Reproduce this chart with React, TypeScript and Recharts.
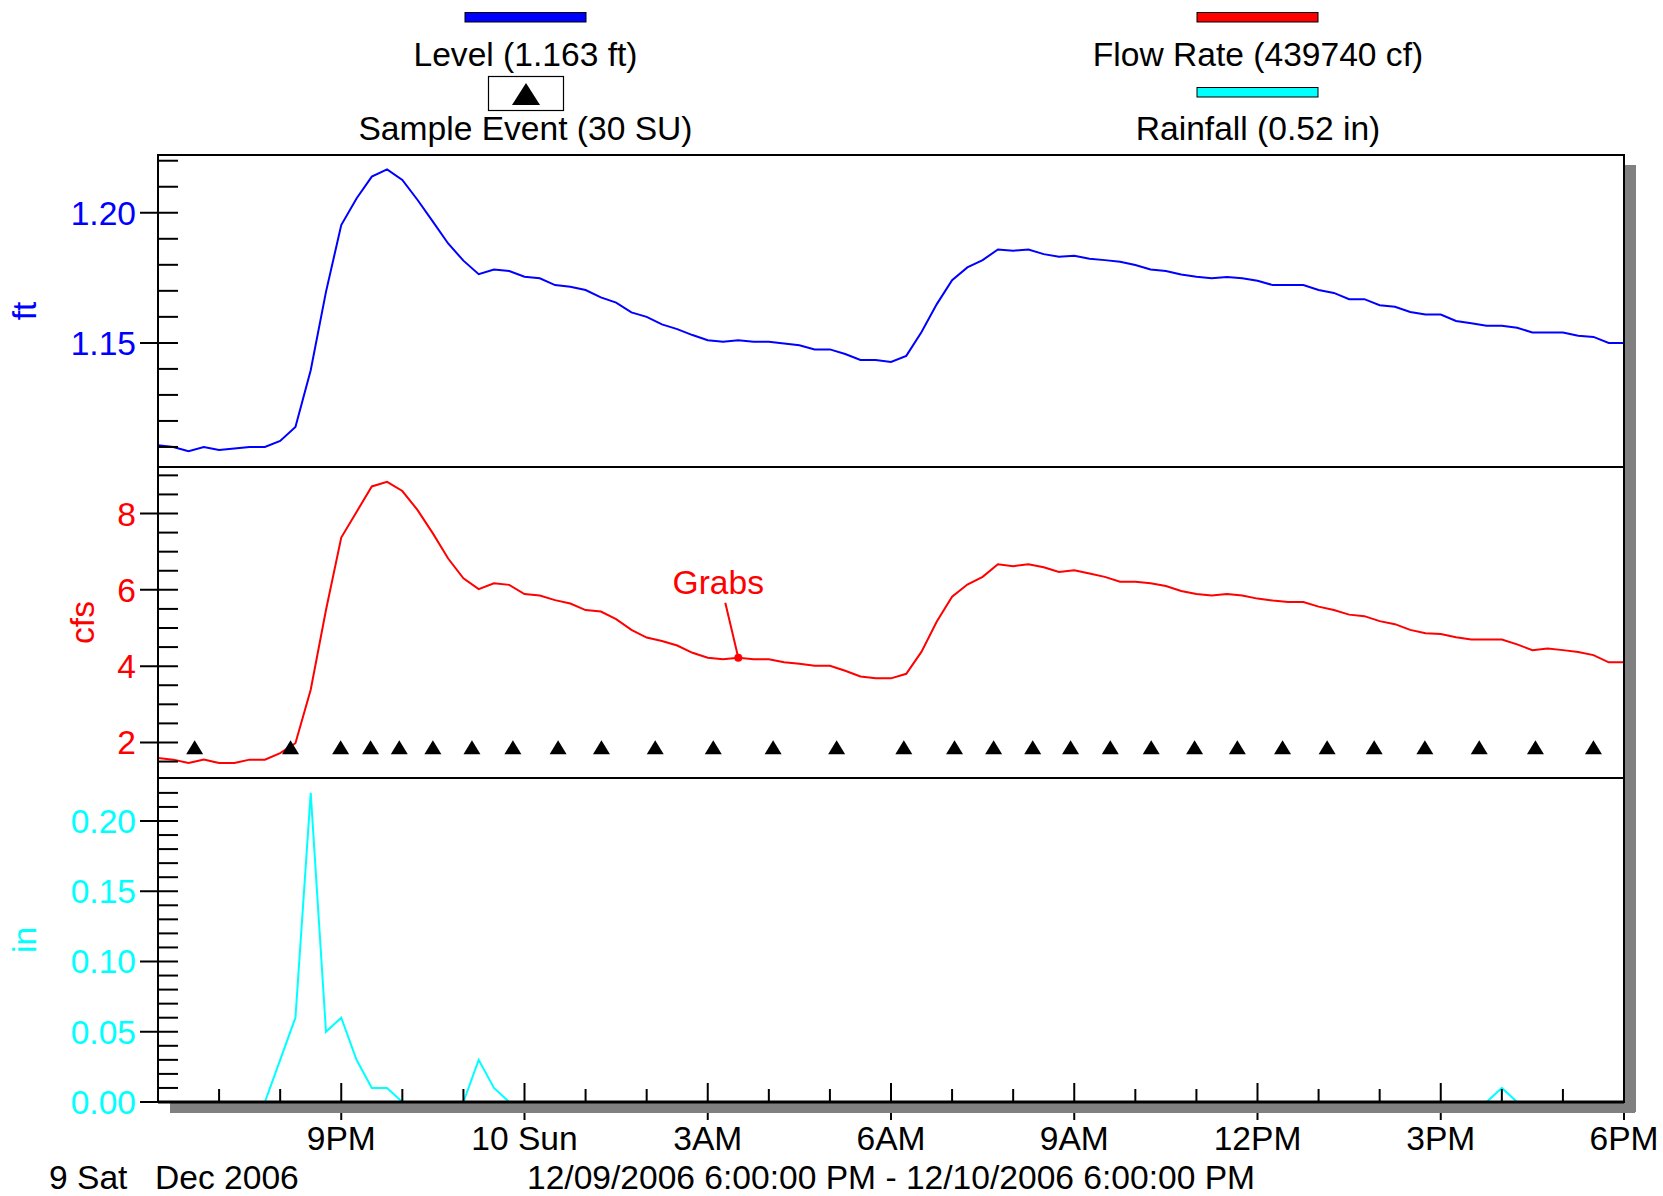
import React from 'react';
import { ComposedChart, Line, XAxis, YAxis, Scatter, ReferenceDot } from 'recharts';

// ---------- data (15-minute readings, 6:00 PM Sat 9 Dec 2006 -> 6:00 PM Sun 10 Dec) ----------
const levelFt = [
  1.1107, 1.1100, 1.1084, 1.1100, 1.1088, 1.1094, 1.1100, 1.1100, 1.1123, 1.1177,
  1.1395, 1.1696, 1.1953, 1.2055, 1.2139, 1.2167, 1.2126, 1.2049, 1.1966, 1.1882,
  1.1816, 1.1764, 1.1782, 1.1776, 1.1754, 1.1748, 1.1722, 1.1716, 1.1703, 1.1675,
  1.1655, 1.1617, 1.1600, 1.1571, 1.1553, 1.1530, 1.1510, 1.1504, 1.1510, 1.1504,
  1.1504, 1.1498, 1.1491, 1.1475, 1.1475, 1.1457, 1.1434, 1.1434, 1.1427, 1.1450,
  1.1542, 1.1649, 1.1741, 1.1790, 1.1818, 1.1859, 1.1854, 1.1859, 1.1841, 1.1831,
  1.1835, 1.1823, 1.1818, 1.1812, 1.1799, 1.1782, 1.1776, 1.1763, 1.1754, 1.1748,
  1.1753, 1.1748, 1.1739, 1.1722, 1.1722, 1.1722, 1.1703, 1.1692, 1.1668, 1.1668,
  1.1645, 1.1639, 1.1619, 1.1609, 1.1609, 1.1584, 1.1575, 1.1566, 1.1566, 1.1558,
  1.1540, 1.1540, 1.1540, 1.1527, 1.1523, 1.1500, 1.1500,
];

const flowCfs = [
  1.59, 1.55, 1.46, 1.55, 1.46, 1.46, 1.55, 1.55, 1.72, 1.98,
  3.38, 5.47, 7.37, 8.04, 8.71, 8.83, 8.59, 8.09, 7.48, 6.82,
  6.30, 6.02, 6.17, 6.13, 5.89, 5.85, 5.73, 5.64, 5.47, 5.43,
  5.23, 4.95, 4.75, 4.66, 4.54, 4.35, 4.22, 4.18, 4.22, 4.18,
  4.18, 4.10, 4.06, 4.01, 4.01, 3.88, 3.73, 3.68, 3.68, 3.80,
  4.38, 5.17, 5.82, 6.14, 6.34, 6.67, 6.62, 6.67, 6.59, 6.47,
  6.51, 6.43, 6.34, 6.21, 6.21, 6.17, 6.10, 5.97, 5.89, 5.85,
  5.89, 5.85, 5.77, 5.72, 5.68, 5.68, 5.56, 5.47, 5.35, 5.31,
  5.18, 5.10, 4.95, 4.86, 4.84, 4.76, 4.70, 4.70, 4.70, 4.57,
  4.42, 4.46, 4.42, 4.37, 4.29, 4.10, 4.10,
];

const rainIn = [
  0, 0, 0, 0, 0, 0, 0, 0, 0.03, 0.06,
  0.22, 0.05, 0.06, 0.03, 0.01, 0.01, 0, 0, 0, 0,
  0, 0.03, 0.01, 0, 0, 0, 0, 0, 0, 0,
  0, 0, 0, 0, 0, 0, 0, 0, 0, 0,
  0, 0, 0, 0, 0, 0, 0, 0, 0, 0,
  0, 0, 0, 0, 0, 0, 0, 0, 0, 0,
  0, 0, 0, 0, 0, 0, 0, 0, 0, 0,
  0, 0, 0, 0, 0, 0, 0, 0, 0, 0,
  0, 0, 0, 0, 0, 0, 0, 0, 0.01, 0,
  0, 0, 0, 0, 0, 0, 0,
];

// hours after 6:00 PM at which samples were taken (30 SU)
const sampleEventHours = [
  0.60, 2.17, 2.99, 3.48, 3.95, 4.50, 5.14, 5.81, 6.55, 7.26,
  8.14, 9.09, 10.07, 11.11, 12.21, 13.04, 13.68, 14.32, 14.94, 15.59,
  16.26, 16.97, 17.67, 18.41, 19.14, 19.91, 20.74, 21.63, 22.55, 23.50,
];
const SAMPLE_MARKER_CFS = 1.86;
const GRAB_INDEX = 38;

const levelTicks = [1.11, 1.12, 1.13, 1.14, 1.15, 1.16, 1.17, 1.18, 1.19, 1.2, 1.21, 1.22];
const levelMajor = [1.15, 1.2];
const flowTicks = [1.5, 2, 2.5, 3, 3.5, 4, 4.5, 5, 5.5, 6, 6.5, 7, 7.5, 8, 8.5, 9];
const flowMajor = [2, 4, 6, 8];
const rainTicks = [0, 0.01, 0.02, 0.03, 0.04, 0.05, 0.06, 0.07, 0.08, 0.09, 0.1, 0.11,
  0.12, 0.13, 0.14, 0.15, 0.16, 0.17, 0.18, 0.19, 0.2, 0.21, 0.22];
const rainMajor = [0, 0.05, 0.1, 0.15, 0.2];

const hourTicks = [0, 1, 2, 3, 4, 5, 6, 7, 8, 9, 10, 11, 12, 13, 14, 15, 16, 17, 18, 19, 20, 21, 22, 23, 24];
const hourLabels: Record<number, string> = {
  3: '9PM', 6: '10 Sun', 9: '3AM', 12: '6AM', 15: '9AM', 18: '12PM', 21: '3PM', 24: '6PM',
};

const STEP_HOURS = 0.25;
const chartData = levelFt.map((v, i) => ({
  h: i * STEP_HOURS,
  level: v,
  flow: flowCfs[i],
  rain: rainIn[i],
}));
const sampleData = sampleEventHours.map((h) => ({ h, m: SAMPLE_MARKER_CFS }));

// ---------- layout ----------
const W = 1663;
const H = 1196;
const PLOT_LEFT = 158;
const PLOT_RIGHT = 1624;
const P1_TOP = 155;
const P1_BOTTOM = 467;
const P2_BOTTOM = 778;
const P3_BOTTOM = 1102;
const FONT = '"Liberation Sans", Arial, Helvetica, sans-serif';
const FS = 33.6;
const BLUE = '#0000ff';
const RED = '#ff0000';
const CYAN = '#00ffff';

const isIn = (arr: number[], v: number) => arr.some((m) => Math.abs(m - v) < 1e-9);

const makeYTick = (majors: number[], color: string, digits: number) => (props: any) => {
  const { y, payload } = props;
  const v = payload.value as number;
  const major = isIn(majors, v);
  return (
    <g>
      <line x1={major ? PLOT_LEFT - 18 : PLOT_LEFT} x2={PLOT_LEFT + 20} y1={y} y2={y} stroke="#000" strokeWidth={2} />
      {major && (
        <text x={PLOT_LEFT - 22} y={y + 12} textAnchor="end" fill={color} fontSize={FS} fontFamily={FONT}>
          {v.toFixed(digits)}
        </text>
      )}
    </g>
  );
};

const XTick = (props: any) => {
  const { x, payload } = props;
  const v = payload.value as number;
  if (v === 0) return <g />;
  const major = v % 3 === 0;
  return (
    <g>
      <line x1={x} x2={x} y1={major ? P3_BOTTOM - 19 : P3_BOTTOM - 13} y2={major ? P3_BOTTOM + 18 : P3_BOTTOM}
        stroke="#000" strokeWidth={2} />
      {major && (
        <text x={x} y={1150} textAnchor="middle" fill="#000" fontSize={FS} fontFamily={FONT}>
          {hourLabels[v]}
        </text>
      )}
    </g>
  );
};

const Triangle = (props: any) => {
  const { cx, cy } = props;
  return <polygon points={`${cx},${cy - 7.5} ${cx - 8.5},${cy + 6.5} ${cx + 8.5},${cy + 6.5}`} fill="#000" />;
};

const GrabShape = (props: any) => {
  const { cx, cy } = props;
  return (
    <g>
      <line x1={cx - 13} y1={cy - 55} x2={cx} y2={cy} stroke={RED} strokeWidth={2} />
      <circle cx={cx} cy={cy} r={4} fill={RED} />
      <text x={cx - 20} y={cy - 64} textAnchor="middle" fill={RED} fontSize={FS} fontFamily={FONT}>Grabs</text>
    </g>
  );
};

const layer: React.CSSProperties = { position: 'absolute', left: 0, top: 0 };
const RIGHT_MARGIN = W - PLOT_RIGHT;

export default function App() {
  return (
    <div style={{ position: 'absolute', left: 0, top: 0, width: W, height: H, background: '#fff', overflow: 'hidden' }}>
      {/* Panel 1: Level */}
      <div style={layer}>
        <ComposedChart width={W} height={H} data={chartData}
          margin={{ top: P1_TOP, right: RIGHT_MARGIN, bottom: H - P1_BOTTOM, left: 0 }}>
          <XAxis dataKey="h" type="number" domain={[0, 24]} hide allowDataOverflow />
          <YAxis width={PLOT_LEFT} type="number" domain={[1.1023, 1.2222]} allowDataOverflow ticks={levelTicks}
            interval={0} axisLine={false} tickLine={false} tickSize={0} tickMargin={0}
            tick={makeYTick(levelMajor, BLUE, 2)} />
          <Line dataKey="level" type="linear" stroke={BLUE} strokeWidth={2} dot={false} isAnimationActive={false} />
        </ComposedChart>
      </div>
      {/* Panel 2: Flow rate + sample events */}
      <div style={layer}>
        <ComposedChart width={W} height={H} data={chartData}
          margin={{ top: P1_BOTTOM, right: RIGHT_MARGIN, bottom: H - P2_BOTTOM, left: 0 }}>
          <XAxis dataKey="h" type="number" domain={[0, 24]} hide allowDataOverflow />
          <YAxis width={PLOT_LEFT} type="number" domain={[1.069, 9.219]} allowDataOverflow ticks={flowTicks}
            interval={0} axisLine={false} tickLine={false} tickSize={0} tickMargin={0}
            tick={makeYTick(flowMajor, RED, 0)} />
          <Line dataKey="flow" type="linear" stroke={RED} strokeWidth={2} dot={false} isAnimationActive={false} />
          <Scatter data={sampleData} dataKey="m" shape={Triangle} isAnimationActive={false} />
          <ReferenceDot x={chartData[GRAB_INDEX].h} y={flowCfs[GRAB_INDEX]} shape={GrabShape} />
        </ComposedChart>
      </div>
      {/* Panel 3: Rainfall + time axis */}
      <div style={layer}>
        <ComposedChart width={W} height={H} data={chartData}
          margin={{ top: P2_BOTTOM, right: RIGHT_MARGIN, bottom: 0, left: 0 }}>
          <XAxis dataKey="h" type="number" domain={[0, 24]} allowDataOverflow ticks={hourTicks} interval={0}
            height={H - P3_BOTTOM} axisLine={false} tickLine={false} tickSize={0} tickMargin={0} tick={XTick} />
          <YAxis width={PLOT_LEFT} type="number" domain={[0, 0.2306]} allowDataOverflow ticks={rainTicks}
            interval={0} axisLine={false} tickLine={false} tickSize={0} tickMargin={0}
            tick={makeYTick(rainMajor, CYAN, 2)} />
          <Line dataKey="rain" type="linear" stroke={CYAN} strokeWidth={2} dot={false} isAnimationActive={false} />
        </ComposedChart>
      </div>
      {/* Frame, legend and captions */}
      <svg width={W} height={H} style={{ ...layer, pointerEvents: 'none' }} fontFamily={FONT}>
        {/* drop shadow */}
        <rect x={PLOT_RIGHT + 1} y={P1_TOP + 10} width={11} height={P3_BOTTOM - P1_TOP} fill="#808080" />
        <rect x={PLOT_LEFT + 12} y={P3_BOTTOM + 1} width={PLOT_RIGHT - PLOT_LEFT - 1} height={10} fill="#808080" />
        {/* frame */}
        <rect x={PLOT_LEFT} y={P1_TOP} width={PLOT_RIGHT - PLOT_LEFT} height={P3_BOTTOM - P1_TOP}
          fill="none" stroke="#000" strokeWidth={2} />
        <line x1={PLOT_LEFT} x2={PLOT_RIGHT} y1={P1_BOTTOM} y2={P1_BOTTOM} stroke="#000" strokeWidth={2} />
        <line x1={PLOT_LEFT} x2={PLOT_RIGHT} y1={P2_BOTTOM} y2={P2_BOTTOM} stroke="#000" strokeWidth={2} />
        <line x1={PLOT_LEFT} x2={PLOT_RIGHT} y1={P3_BOTTOM} y2={P3_BOTTOM} stroke="#000" strokeWidth={3} />
        {/* axis titles */}
        <text transform={`translate(36,${(P1_TOP + P1_BOTTOM) / 2}) rotate(-90)`} textAnchor="middle" fill={BLUE} fontSize={FS}>ft</text>
        <text transform={`translate(94,${(P1_BOTTOM + P2_BOTTOM) / 2}) rotate(-90)`} textAnchor="middle" fill={RED} fontSize={FS}>cfs</text>
        <text transform={`translate(36,${(P2_BOTTOM + P3_BOTTOM) / 2}) rotate(-90)`} textAnchor="middle" fill={CYAN} fontSize={FS}>in</text>
        {/* legend */}
        <rect x={465} y={12.5} width={121} height={9.5} fill={BLUE} stroke="#000" strokeWidth={1} />
        <text x={525.5} y={66} textAnchor="middle" fill="#000" fontSize={FS}>Level (1.163 ft)</text>
        <rect x={488.5} y={76.5} width={75} height={34} fill="#fff" stroke="#000" strokeWidth={1.2} />
        <polygon points="526,83 512,105 540,105" fill="#000" />
        <text x={525.5} y={140} textAnchor="middle" fill="#000" fontSize={FS}>Sample Event (30 SU)</text>
        <rect x={1197} y={12.5} width={121} height={9.5} fill={RED} stroke="#000" strokeWidth={1} />
        <text x={1258} y={66} textAnchor="middle" fill="#000" fontSize={FS}>Flow Rate (439740 cf)</text>
        <rect x={1197} y={87.5} width={121} height={9.5} fill={CYAN} stroke="#000" strokeWidth={1} />
        <text x={1258} y={140} textAnchor="middle" fill="#000" fontSize={FS}>Rainfall (0.52 in)</text>
        {/* date captions */}
        <text x={49} y={1189} fill="#000" fontSize={FS}>9 Sat</text>
        <text x={155} y={1189} fill="#000" fontSize={FS}>Dec 2006</text>
        <text x={(PLOT_LEFT + PLOT_RIGHT) / 2} y={1189} textAnchor="middle" fill="#000" fontSize={FS}>
          12/09/2006 6:00:00 PM - 12/10/2006 6:00:00 PM
        </text>
      </svg>
    </div>
  );
}
